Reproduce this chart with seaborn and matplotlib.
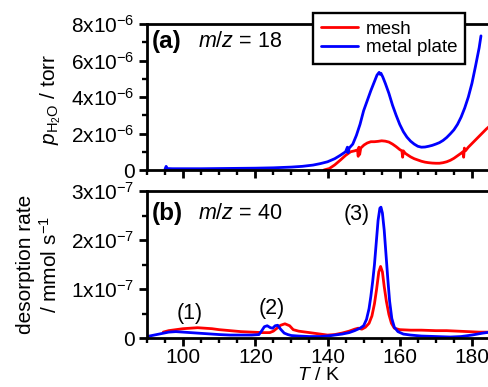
import matplotlib
matplotlib.use("Agg")
import numpy as np
import pandas as pd
import seaborn as sns
import matplotlib.pyplot as plt
from matplotlib.ticker import MultipleLocator, FuncFormatter
from matplotlib.lines import Line2D

# ---------------- data ----------------
series_names = ["mesh", "metal plate"]
series_colors = ["#ff0000", "#0000ff"]

# panel (a): m/z = 18, partial pressure of H2O (units of 1e-6 torr)
T_a_plate = [95.0, 95.3, 95.6, 97, 100, 105, 110, 115, 120, 125, 130, 133, 136, 138, 140, 142,
             143.5, 145, 145.5, 145.7, 146, 147, 148, 149, 150, 151, 152, 153, 153.7, 154.3,
             154.5, 154.8, 155.3, 156, 157, 158, 159, 160, 161, 162, 163, 164, 165, 166, 167,
             168, 169, 170, 171, 172, 173, 174, 175, 176, 177, 178, 179, 180, 181, 182, 182.5]
p_a_plate = [0.05, 0.2, 0.08, 0.07, 0.07, 0.07, 0.08, 0.09, 0.1, 0.12, 0.16, 0.2, 0.27, 0.35, 0.45, 0.62,
             0.8, 1.0, 1.25, 0.95, 1.2, 1.42, 1.9, 2.5, 3.25, 3.8, 4.35, 4.85, 5.2, 5.35,
             5.25, 5.3, 5.1, 4.75, 4.2, 3.55, 3.0, 2.5, 2.1, 1.8, 1.58, 1.42, 1.3, 1.25, 1.26,
             1.3, 1.35, 1.42, 1.5, 1.62, 1.78, 1.98, 2.2, 2.5, 2.9, 3.4, 4.0, 4.75, 5.7, 6.7, 7.35]

T_a_mesh = [139, 140.5, 142, 143.6, 145, 146.4, 147.5, 148.3, 148.5, 148.7, 148.9, 149.2, 150.1,
            151, 152, 153, 154, 155, 156, 157, 158, 159, 160, 160.6, 160.8, 161.0, 161.5, 162,
            163, 164, 165, 166, 167, 168, 169, 170, 171, 172, 173, 174, 175, 176, 177, 177.5,
            177.7, 177.9, 178.2, 179, 180, 181, 182, 183, 184, 185]
p_a_mesh = [0.0, 0.08, 0.28, 0.55, 0.8, 1.0, 1.05, 1.1, 0.75, 1.25, 0.85, 1.2, 1.37,
            1.48, 1.55, 1.55, 1.57, 1.6, 1.58, 1.53, 1.42, 1.28, 1.12, 1.05, 0.7, 1.05, 0.92, 0.85,
            0.72, 0.62, 0.55, 0.48, 0.43, 0.4, 0.38, 0.37, 0.37, 0.4, 0.45, 0.53, 0.64, 0.78, 0.92, 1.0,
            0.7, 1.2, 1.05, 1.25, 1.45, 1.65, 1.85, 2.05, 2.25, 2.42]

# panel (b): m/z = 40, desorption rate (units of 1e-7 mmol/s)
T_b_plate = [90, 92, 94, 96, 98, 100, 102, 104, 106, 108, 110, 113, 116, 119, 121, 121.8, 122.5,
             123.3, 124.2, 124.8, 125.5, 126.2, 127, 128, 129, 130, 132, 135, 138, 141, 144, 146,
             147.5, 149, 150, 150.8, 151.5, 152, 152.5, 153, 153.5, 154, 154.5, 154.8, 155.2,
             155.7, 156.2, 156.7, 157.2, 157.8, 158.5, 159.5, 161, 163, 166, 170, 174, 177, 180,
             183, 185]
r_b_plate = [0.03, 0.06, 0.09, 0.12, 0.13, 0.12, 0.11, 0.1, 0.09, 0.08, 0.07, 0.06, 0.06, 0.06, 0.07,
             0.15, 0.23, 0.25, 0.21, 0.2, 0.25, 0.26, 0.18, 0.1, 0.07, 0.05, 0.04, 0.03, 0.03, 0.05,
             0.08, 0.11, 0.15, 0.2, 0.25, 0.38, 0.6, 0.85, 1.15, 1.5, 1.95, 2.4, 2.65, 2.67, 2.55,
             2.2, 1.7, 1.2, 0.75, 0.4, 0.22, 0.13, 0.08, 0.06, 0.04, 0.03, 0.02, 0.03, 0.06, 0.1, 0.12]

T_b_mesh = [94.5, 96, 98, 100, 102, 104, 106, 108, 110, 113, 116, 119, 122, 124, 125, 126, 127,
            128.2, 129.5, 130.5, 132, 135, 138, 140, 142, 144, 146, 147.5, 148.5, 149.5, 150.5,
            151.5, 152.3, 153, 153.6, 154.2, 154.7, 155.2, 155.7, 156.3, 157, 157.7, 158.5, 160,
            163, 166, 170, 173, 176, 179, 182, 185]
r_b_mesh = [0.12, 0.15, 0.17, 0.19, 0.2, 0.21, 0.2, 0.19, 0.17, 0.15, 0.13, 0.12, 0.11, 0.11, 0.14,
            0.2, 0.26, 0.29, 0.25, 0.17, 0.14, 0.11, 0.08, 0.06, 0.07, 0.1, 0.14, 0.18, 0.2, 0.18,
            0.22, 0.3, 0.45, 0.7, 1.0, 1.35, 1.46, 1.35, 1.05, 0.75, 0.48, 0.3, 0.2, 0.17, 0.16,
            0.16, 0.15, 0.15, 0.14, 0.13, 0.12, 0.12]

x_ticks = [100, 120, 140, 160, 180]
peak_labels = ["(1)", "(2)", "(3)"]
peak_T = [101.9, 124.6, 148.2]
peak_y = [0.51, 0.61, 2.53]

# ---------------- frames ----------------
df_a = pd.concat([
    pd.DataFrame({"T": T_a_mesh, "val": np.array(p_a_mesh) * 1e-6, "sample": "mesh"}),
    pd.DataFrame({"T": T_a_plate, "val": np.array(p_a_plate) * 1e-6, "sample": "metal plate"}),
], ignore_index=True)
df_b = pd.concat([
    pd.DataFrame({"T": T_b_mesh, "val": np.array(r_b_mesh) * 1e-7, "sample": "mesh"}),
    pd.DataFrame({"T": T_b_plate, "val": np.array(r_b_plate) * 1e-7, "sample": "metal plate"}),
], ignore_index=True)

# ---------------- style ----------------
sns.set_theme(style="ticks")
plt.rcParams.update({
    "font.family": ["Liberation Sans", "DejaVu Sans"],
    "mathtext.fontset": "custom",
    "mathtext.rm": "Liberation Sans",
    "mathtext.it": "Liberation Sans:italic",
    "mathtext.bf": "Liberation Sans:bold",
    "font.size": 15,
    "axes.linewidth": 2.0,
    "axes.edgecolor": "black",
    "text.color": "black",
    "axes.labelcolor": "black",
    "xtick.color": "black",
    "ytick.color": "black",
})

FS = 15
LW = 2.0
palette = dict(zip(series_names, series_colors))

fig = plt.figure(figsize=(4.89, 3.87), dpi=100)
W, H = 489.0, 387.0
ax1 = fig.add_axes([147 / W, 1 - 170 / H, 343 / W, 146 / H])
ax2 = fig.add_axes([147 / W, 1 - 338 / H, 343 / W, 147 / H])

for ax, df in ((ax1, df_a), (ax2, df_b)):
    sns.lineplot(data=df, x="T", y="val", hue="sample", hue_order=series_names,
                 palette=palette, estimator=None, sort=False, lw=LW, ax=ax, legend=False)
    ax.set_xlim(90, 185)
    ax.xaxis.set_major_locator(MultipleLocator(20))
    ax.xaxis.set_minor_locator(MultipleLocator(5))
    ax.tick_params(which="major", direction="out", length=6, width=2.0, labelsize=FS, pad=3)
    ax.tick_params(which="minor", direction="out", length=3.5, width=1.7)
    for s in ax.spines.values():
        s.set_linewidth(2.0)
        s.set_color("black")

def make_fmt(exp):
    def f(v, pos):
        if abs(v) < 1e-20:
            return "0"
        return "%dx10$^{%d}$" % (round(v / 10 ** exp), exp)
    return FuncFormatter(f)

ax1.set_ylim(0, 8e-6)
ax1.yaxis.set_major_locator(MultipleLocator(2e-6))
ax1.yaxis.set_minor_locator(MultipleLocator(1e-6))
ax1.yaxis.set_major_formatter(make_fmt(-6))
ax1.tick_params(axis="x", labelbottom=False)
ax1.set_xlabel("")
ax1.set_ylabel(r"$p_{\mathrm{H_2O}}$ / torr", fontsize=FS)
ax1.yaxis.set_label_coords(-0.245, 0.48)

ax2.set_ylim(0, 3e-7)
ax2.yaxis.set_major_locator(MultipleLocator(1e-7))
ax2.yaxis.set_minor_locator(MultipleLocator(0.5e-7))
ax2.yaxis.set_major_formatter(make_fmt(-7))
ax2.set_xticks(x_ticks)
ax2.tick_params(axis="x", which="major", pad=1.5)
ax2.set_ylabel("desorption rate\n/ mmol s$^{-1}$", fontsize=FS, linespacing=1.25)
ax2.yaxis.set_label_coords(-0.25, 0.5)
ax2.set_xlabel(r"$T$ / K", fontsize=14)
ax2.xaxis.set_label_coords(0.5, -0.2)

# panel labels
ax1.text(0.015, 0.88, "(a)", transform=ax1.transAxes, fontsize=17.5, fontweight="bold",
         va="center", ha="left")
ax1.text(0.149, 0.88, r"$m/z$ = 18", transform=ax1.transAxes, fontsize=15.5, va="center", ha="left")
ax2.text(0.015, 0.85, "(b)", transform=ax2.transAxes, fontsize=17.5, fontweight="bold",
         va="center", ha="left")
ax2.text(0.149, 0.85, r"$m/z$ = 40", transform=ax2.transAxes, fontsize=15.5, va="center", ha="left")

for lab, tx, ty in zip(peak_labels, peak_T, peak_y):
    ax2.text(tx, ty * 1e-7, lab, fontsize=15.5, ha="center", va="center")

handles = [Line2D([], [], color=c, lw=LW) for c in series_colors]
leg = ax1.legend(handles, series_names, loc="upper left",
                 bbox_to_anchor=(313 / W, 1 - 12.5 / H), bbox_transform=fig.transFigure,
                 frameon=True, fancybox=False, framealpha=1, edgecolor="black",
                 borderaxespad=0, fontsize=13.5, handlelength=2.0, handletextpad=0.4,
                 borderpad=0.42, labelspacing=0.1)
leg.get_frame().set_linewidth(1.7)
leg.set_zorder(10)

fig.savefig("out.png", dpi=100)
